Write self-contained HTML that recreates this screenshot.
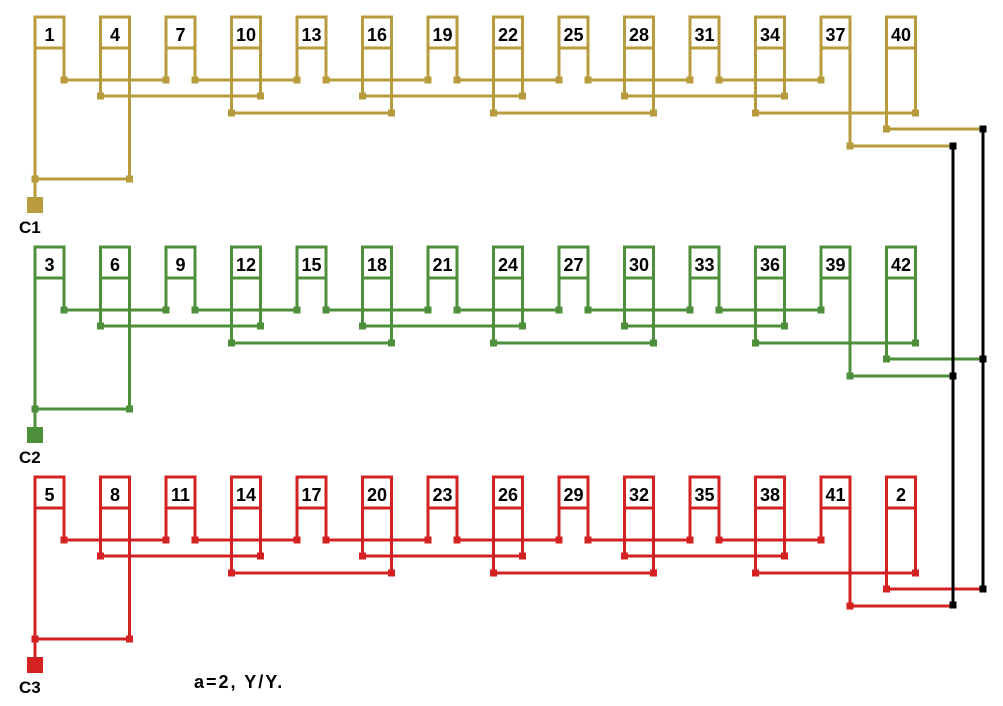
<!DOCTYPE html>
<html><head><meta charset="utf-8"><style>
html,body{margin:0;padding:0;background:#fff;width:1003px;height:706px;overflow:hidden}
svg{display:block}
text{font-family:"Liberation Sans",sans-serif;font-weight:bold;fill:#000}
</style></head><body>
<svg id="s" width="1003" height="706" viewBox="0 0 1003 706">
<g id="g"></g>
<g font-size="18" text-anchor="middle">
<text x="49.5" y="41">1</text><text x="115" y="41">4</text><text x="180.5" y="41">7</text><text x="246" y="41">10</text><text x="311.5" y="41">13</text><text x="377" y="41">16</text><text x="442.5" y="41">19</text><text x="508" y="41">22</text><text x="573.5" y="41">25</text><text x="639" y="41">28</text><text x="704.5" y="41">31</text><text x="770" y="41">34</text><text x="835.5" y="41">37</text><text x="901" y="41">40</text>
<text x="49.5" y="271">3</text><text x="115" y="271">6</text><text x="180.5" y="271">9</text><text x="246" y="271">12</text><text x="311.5" y="271">15</text><text x="377" y="271">18</text><text x="442.5" y="271">21</text><text x="508" y="271">24</text><text x="573.5" y="271">27</text><text x="639" y="271">30</text><text x="704.5" y="271">33</text><text x="770" y="271">36</text><text x="835.5" y="271">39</text><text x="901" y="271">42</text>
<text x="49.5" y="501">5</text><text x="115" y="501">8</text><text x="180.5" y="501">11</text><text x="246" y="501">14</text><text x="311.5" y="501">17</text><text x="377" y="501">20</text><text x="442.5" y="501">23</text><text x="508" y="501">26</text><text x="573.5" y="501">29</text><text x="639" y="501">32</text><text x="704.5" y="501">35</text><text x="770" y="501">38</text><text x="835.5" y="501">41</text><text x="901" y="501">2</text>
</g>
<g font-size="17">
<text x="19" y="233">C1</text>
<text x="19" y="463">C2</text>
<text x="19" y="693">C3</text>
<text x="194" y="688" font-size="18" letter-spacing="2">a=2, Y/Y.</text>
</g>
</svg>
<script>
(function(){
var g=document.getElementById('g'),out='';
function L(i){return 35+65.5*i;}function R(i){return L(i)+29;}
function line(x1,y1,x2,y2,c,w){out+='<line x1="'+x1+'" y1="'+y1+'" x2="'+x2+'" y2="'+y2+'" stroke="'+c+'" stroke-width="'+(w||3)+'"/>';}
function dot(x,y,c,s){s=s||7;out+='<rect x="'+(x-s/2)+'" y="'+(y-s/2)+'" width="'+s+'" height="'+s+'" fill="'+c+'"/>';}
var cols=['#b89b3c','#4d8f3a','#d42222'];
for(var r=0;r<3;r++){
 var c=cols[r],d=230*r,top=17+d,mid=48+d;
 var y1=80+d,y2=96+d,y3=113+d,y4=129+d,y5=146+d,yc=179+d;
 for(var i=0;i<14;i++){
  var le,re;
  if(i==0){le=yc;re=y1;}
  else if(i==1){le=y2;re=yc;}
  else if(i%2==0){le=y1;re=(i==12)?y5:y1;}
  else if(i==13){le=y4;re=y3;}
  else if(((i-1)/2)%2==1){le=y3;re=y2;}
  else {le=y2;re=y3;}
  out+='<rect x="'+L(i)+'" y="'+top+'" width="29" height="'+(mid-top)+'" fill="#fff" stroke="'+c+'" stroke-width="3"/>';
  line(L(i),mid,L(i),le,c);line(R(i),mid,R(i),re,c);
 }
 for(var i=0;i<=10;i+=2){line(R(i),y1,L(i+2),y1,c);dot(R(i),y1,c);dot(L(i+2),y1,c);}
 [[1,3],[5,7],[9,11]].forEach(function(p){line(L(p[0]),y2,R(p[1]),y2,c);dot(L(p[0]),y2,c);dot(R(p[1]),y2,c);});
 [[3,5],[7,9],[11,13]].forEach(function(p){line(L(p[0]),y3,R(p[1]),y3,c);dot(L(p[0]),y3,c);dot(R(p[1]),y3,c);});
 line(L(13),y4,983,y4,c);dot(L(13),y4,c);
 line(R(12),y5,953,y5,c);dot(R(12),y5,c);
 line(L(0),yc,R(1),yc,c);dot(L(0),yc,c);dot(R(1),yc,c);
 line(L(0),yc,L(0),yc+20,c);
 out+='<rect x="27" y="'+(197+d)+'" width="16" height="16" fill="'+c+'"/>';
}
line(953,146,953,605,'#000',3);line(983,129,983,589,'#000',3);
[146,376,605].forEach(function(y){dot(953,y,'#000');});
[129,359,589].forEach(function(y){dot(983,y,'#000');});
g.innerHTML=out;
})();
</script>
</body></html>
